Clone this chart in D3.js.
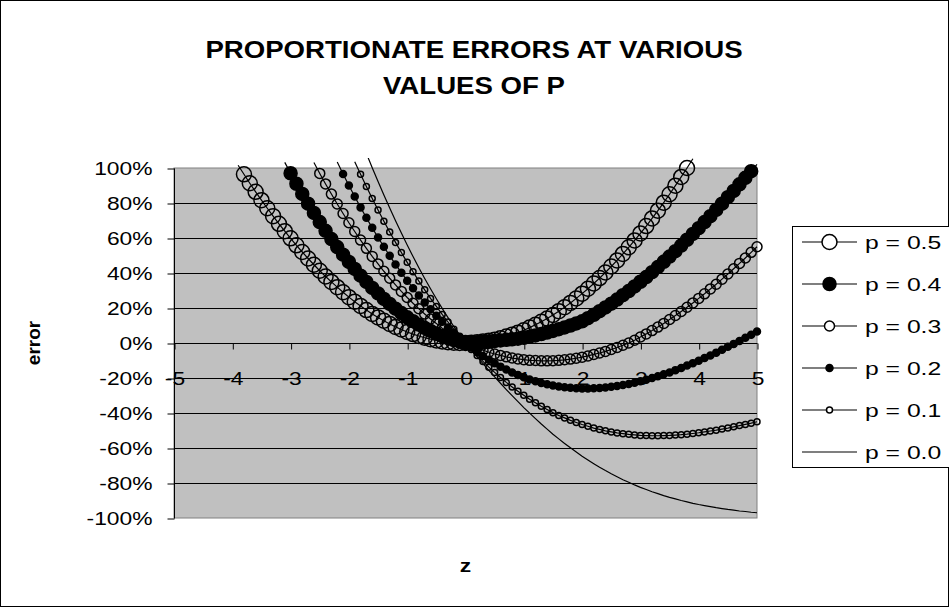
<!DOCTYPE html>
<html lang="en">
<head>
<meta charset="UTF-8">
<title>Proportionate errors at various values of p</title>
<script src="https://cdn.jsdelivr.net/npm/d3@7"></script>
<style>
  body { margin: 0; background: #fff; }
  svg text { font-family: Arial, "Liberation Sans", sans-serif; fill: #000; }
</style>
</head>
<body>
<div id="chart"></div>
<script>
// z runs from -5 to 5 in steps of 0.1; each series starts at its own z
const zTicks = [-5, -4, -3, -2, -1, 0, 1, 2, 3, 4, 5];
const errTicks = [1, 0.8, 0.6, 0.4, 0.2, 0, -0.2, -0.4, -0.6, -0.8, -1];
const seriesNames = ["p = 0.5", "p = 0.4", "p = 0.3", "p = 0.2", "p = 0.1", "p = 0.0"];
const seriesStartZ = [-3.9, -3.1, -2.6, -2.2, -1.9, -1.7];

const errP05 = [1.016, 0.964, 0.913, 0.864, 0.816, 0.770, 0.725, 0.681, 0.639, 0.598,
  0.558, 0.520, 0.483, 0.447, 0.413, 0.380, 0.349, 0.319, 0.290, 0.262,
  0.236, 0.212, 0.188, 0.166, 0.146, 0.127, 0.109, 0.092, 0.077, 0.063,
  0.051, 0.040, 0.030, 0.022, 0.015, 0.009, 0.005, 0.002, 0.000, 0.000,
  0.001, 0.004, 0.008, 0.013, 0.019, 0.027, 0.037, 0.047, 0.059, 0.073,
  0.088, 0.104, 0.121, 0.140, 0.160, 0.182, 0.205, 0.229, 0.255, 0.282,
  0.310, 0.340, 0.371, 0.403, 0.437, 0.472, 0.509, 0.547, 0.586, 0.626,
  0.668, 0.712, 0.756, 0.802, 0.850, 0.899, 0.949, 1.000, 1.053];
const errP04 = [1.032, 0.970, 0.910, 0.852, 0.796, 0.743, 0.691, 0.641, 0.594, 0.548,
  0.505, 0.463, 0.423, 0.385, 0.349, 0.315, 0.283, 0.252, 0.223, 0.196,
  0.171, 0.147, 0.125, 0.105, 0.086, 0.069, 0.054, 0.040, 0.028, 0.017,
  0.008, 0.000, 0.002, 0.004, 0.007, 0.009, 0.012, 0.015, 0.018, 0.021,
  0.025, 0.030, 0.036, 0.043, 0.051, 0.060, 0.069, 0.079, 0.089, 0.100,
  0.112, 0.124, 0.142, 0.161, 0.182, 0.203, 0.225, 0.248, 0.273, 0.297,
  0.323, 0.350, 0.377, 0.405, 0.434, 0.464, 0.494, 0.525, 0.557, 0.590,
  0.623, 0.656, 0.691, 0.725, 0.761, 0.796, 0.833, 0.869, 0.907, 0.944,
  0.982, 1.021];
const errP03 = [1.031, 0.969, 0.909, 0.851, 0.794, 0.740, 0.687, 0.637, 0.588, 0.541,
  0.495, 0.452, 0.410, 0.370, 0.332, 0.295, 0.260, 0.227, 0.196, 0.166,
  0.137, 0.111, 0.085, 0.062, 0.040, 0.019, 0.000, -0.015, -0.029, -0.041,
  -0.053, -0.063, -0.071, -0.079, -0.086, -0.091, -0.095, -0.099, -0.100, -0.102,
  -0.102, -0.101, -0.099, -0.096, -0.092, -0.087, -0.081, -0.074, -0.065, -0.057,
  -0.048, -0.037, -0.026, -0.013, 0.000, 0.016, 0.034, 0.052, 0.071, 0.091,
  0.112, 0.134, 0.157, 0.180, 0.204, 0.229, 0.255, 0.281, 0.309, 0.336,
  0.365, 0.394, 0.424, 0.455, 0.486, 0.518, 0.550];
const errP02 = [1.034, 0.966, 0.900, 0.837, 0.775, 0.716, 0.658, 0.603, 0.550, 0.498,
  0.449, 0.402, 0.356, 0.313, 0.271, 0.231, 0.193, 0.156, 0.122, 0.089,
  0.058, 0.028, 0.000, -0.026, -0.051, -0.074, -0.096, -0.116, -0.135, -0.152,
  -0.168, -0.183, -0.196, -0.208, -0.218, -0.228, -0.236, -0.243, -0.248, -0.253,
  -0.256, -0.258, -0.260, -0.260, -0.259, -0.257, -0.254, -0.250, -0.246, -0.240,
  -0.234, -0.227, -0.219, -0.210, -0.200, -0.190, -0.179, -0.168, -0.155, -0.143,
  -0.129, -0.115, -0.101, -0.086, -0.071, -0.055, -0.039, -0.022, -0.005, 0.012,
  0.030, 0.047, 0.066];
const errP01 = [1.036, 0.964, 0.894, 0.826, 0.760, 0.696, 0.634, 0.575, 0.517, 0.461,
  0.407, 0.354, 0.304, 0.255, 0.209, 0.163, 0.120, 0.078, 0.038, 0.000,
  -0.037, -0.072, -0.105, -0.138, -0.168, -0.197, -0.225, -0.251, -0.276, -0.299,
  -0.322, -0.342, -0.362, -0.380, -0.398, -0.414, -0.428, -0.442, -0.454, -0.466,
  -0.476, -0.486, -0.494, -0.502, -0.508, -0.514, -0.518, -0.522, -0.525, -0.528,
  -0.529, -0.530, -0.530, -0.529, -0.528, -0.526, -0.524, -0.521, -0.517, -0.513,
  -0.508, -0.503, -0.498, -0.492, -0.486, -0.479, -0.472, -0.465, -0.458, -0.450];
const errP00 = [1.083, 1.002, 0.923, 0.846, 0.771, 0.698, 0.628, 0.560, 0.494, 0.430,
  0.369, 0.310, 0.253, 0.198, 0.145, 0.094, 0.046, 0.000, -0.040, -0.079,
  -0.118, -0.156, -0.194, -0.230, -0.266, -0.301, -0.335, -0.369, -0.401, -0.432,
  -0.463, -0.492, -0.521, -0.548, -0.574, -0.599, -0.623, -0.647, -0.669, -0.690,
  -0.710, -0.729, -0.747, -0.764, -0.781, -0.796, -0.811, -0.825, -0.837, -0.850,
  -0.861, -0.872, -0.882, -0.891, -0.900, -0.908, -0.916, -0.923, -0.929, -0.935,
  -0.941, -0.946, -0.951, -0.955, -0.960, -0.963, -0.967, -0.970];

const seriesValues = [errP05, errP04, errP03, errP02, errP01, errP00];
// marker style per series: radius, filled?
const markerStyle = [
  {r: 7.5, fill: false}, {r: 6.5, fill: true}, {r: 5, fill: false},
  {r: 3.5, fill: true}, {r: 3, fill: false}, null
];

const width = 949, height = 607;
const plot = {left: 174, right: 757, top: 168, bottom: 518};

// the original chart text is a bit wide, stretch glyphs horizontally
function stretch(sel, k) {
  sel.each(function() {
    const w = this.getComputedTextLength();
    d3.select(this).attr("textLength", w * k).attr("lengthAdjust", "spacingAndGlyphs");
  });
}

const svg = d3.select("#chart").append("svg")
  .attr("width", width)
  .attr("height", height);

svg.append("rect")
  .attr("x", 0.5).attr("y", 0.5)
  .attr("width", width - 1).attr("height", height - 1)
  .attr("fill", "#fff").attr("stroke", "#000");

const x = d3.scaleLinear().domain([-5, 5]).range([plot.left, plot.right]);
const y = d3.scaleLinear().domain([-1, 1]).range([plot.bottom, plot.top]);

// plot area
svg.append("rect")
  .attr("x", plot.left).attr("y", plot.top)
  .attr("width", plot.right - plot.left).attr("height", plot.bottom - plot.top)
  .attr("fill", "#c0c0c0").attr("stroke", "#808080");

svg.append("g")
  .selectAll("line")
  .data(errTicks.filter(d => d !== 1 && d !== -1))
  .join("line")
  .attr("x1", plot.left).attr("x2", plot.right)
  .attr("y1", d => y(d) + 0.5).attr("y2", d => y(d) + 0.5)
  .attr("stroke", "#000");

const pct = d => Math.round(d * 100) + "%";

const yAxis = svg.append("g")
  .attr("transform", `translate(${plot.left + 0.5},0.5)`)
  .call(d3.axisLeft(y).tickValues(errTicks).tickFormat(pct).tickSize(7).tickPadding(15));
yAxis.selectAll("text").attr("font-size", 19).style("font-family", "Arial, 'Liberation Sans', sans-serif");
yAxis.selectAll("path, line").attr("stroke", "#000");
yAxis.select(".domain").attr("d", `M0,${plot.top}V${plot.bottom}`);
stretch(yAxis.selectAll("text"), 1.2);

const xAxis = svg.append("g")
  .attr("transform", `translate(0.5,${y(0) + 0.5})`)
  .call(d3.axisBottom(x).tickValues(zTicks).tickFormat(d => String(d)).tickSize(6).tickPadding(22));
xAxis.selectAll("text").attr("font-size", 19).style("font-family", "Arial, 'Liberation Sans', sans-serif");
xAxis.selectAll("path, line").attr("stroke", "#000");
xAxis.select(".domain").attr("d", `M${plot.left},0H${plot.right}`);
stretch(xAxis.selectAll("text"), 1.2);

// series
svg.append("defs").append("clipPath").attr("id", "clip")
  .append("rect")
  .attr("x", plot.left).attr("y", plot.top - 10)
  .attr("width", plot.right - plot.left + 2).attr("height", plot.bottom - plot.top + 10);

const line = d3.line().x(d => x(d.z)).y(d => y(d.v));

seriesValues.forEach((vals, i) => {
  const pts = vals.map((v, k) => ({z: Math.round((seriesStartZ[i] + k * 0.1) * 10) / 10, v}));
  const g = svg.append("g");
  g.append("path")
    .datum(pts)
    .attr("clip-path", "url(#clip)")
    .attr("fill", "none")
    .attr("stroke", "#000")
    .attr("stroke-width", 1.2)
    .attr("d", line);
  const m = markerStyle[i];
  if (m) {
    g.selectAll("circle")
      .data(pts.filter(d => d.v <= 1.001 && d.v >= -1.001))
      .join("circle")
      .attr("cx", d => x(d.z))
      .attr("cy", d => y(d.v))
      .attr("r", m.r)
      .attr("fill", m.fill ? "#000" : "none")
      .attr("stroke", "#000")
      .attr("stroke-width", 1.5);
  }
});

// titles
const titleLines = ["PROPORTIONATE ERRORS AT VARIOUS", "VALUES OF P"];
const titles = svg.append("g").selectAll("text")
  .data(titleLines)
  .join("text")
  .attr("x", 474).attr("y", (d, i) => 58 + i * 36)
  .attr("text-anchor", "middle")
  .attr("font-size", 24).attr("font-weight", "bold")
  .text(d => d);
stretch(titles, 1.15);

svg.append("text")
  .attr("transform", `translate(40,${y(0)}) rotate(-90)`)
  .attr("text-anchor", "middle")
  .attr("font-size", 19).attr("font-weight", "bold")
  .text("error");

const zLabel = svg.append("text")
  .attr("x", x(0)).attr("y", 572)
  .attr("text-anchor", "middle")
  .attr("font-size", 19).attr("font-weight", "bold")
  .text("z");
stretch(zLabel, 1.2);

// legend
const legend = svg.append("g");
legend.append("rect")
  .attr("x", 792.5).attr("y", 226.5)
  .attr("width", 160).attr("height", 241)
  .attr("fill", "#fff").attr("stroke", "#000");

seriesNames.forEach((name, i) => {
  const ly = 242 + i * 42;
  const row = legend.append("g").attr("transform", `translate(0,${ly})`);
  row.append("line")
    .attr("x1", 802).attr("x2", 857)
    .attr("y1", 0).attr("y2", 0)
    .attr("stroke", "#000").attr("stroke-width", 1.2);
  const m = markerStyle[i];
  if (m) {
    row.append("circle")
      .attr("cx", 829.5).attr("cy", 0).attr("r", m.r)
      .attr("fill", m.fill ? "#000" : "#fff")
      .attr("stroke", "#000").attr("stroke-width", 1.5);
  }
  const t = row.append("text")
    .attr("x", 865).attr("y", 0).attr("dy", "0.35em")
    .attr("font-size", 19)
    .text(name);
  stretch(t, 1.3);
});
</script>
</body>
</html>
